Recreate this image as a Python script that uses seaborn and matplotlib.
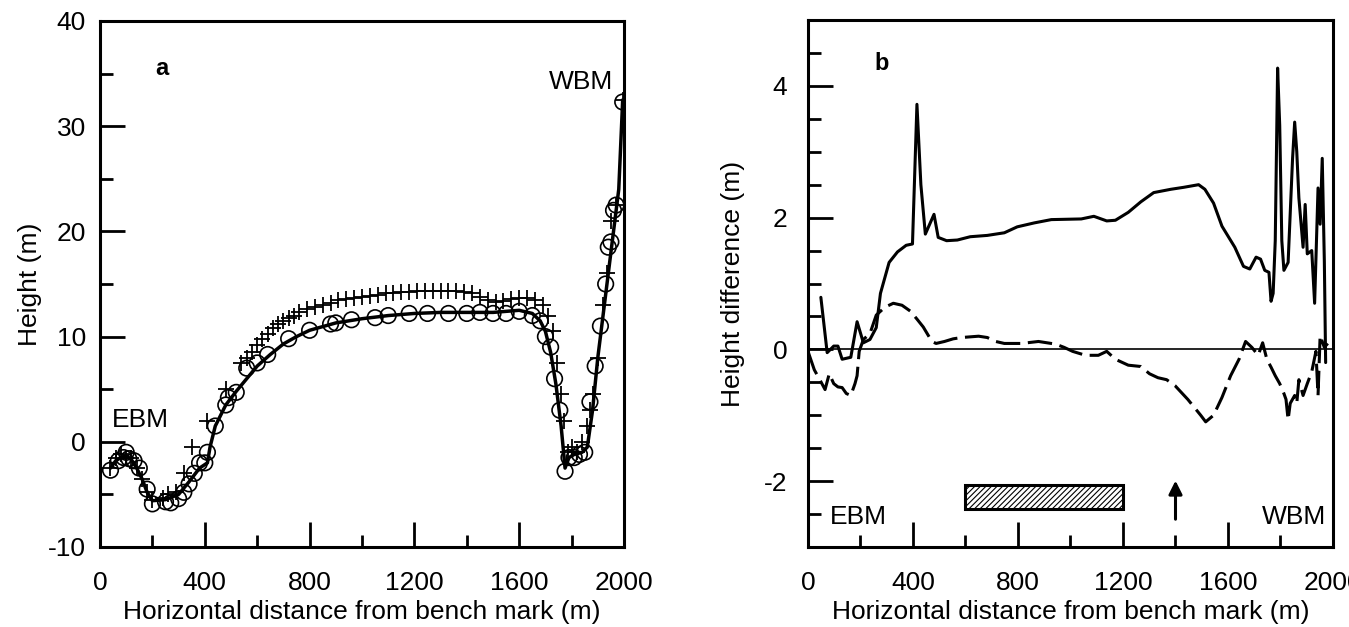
import numpy as np
import pandas as pd
import matplotlib
matplotlib.use("Agg")
import matplotlib.pyplot as plt
import seaborn as sns
from matplotlib.patches import Rectangle
from matplotlib.ticker import MultipleLocator

# ---------------- panel a: height profile ----------------
fit_x = [40, 60, 80, 100, 120, 140, 160, 180, 200, 250, 300, 340, 380, 410, 420, 440,
         480, 520, 560, 600, 650, 700, 750, 800, 900, 1000, 1100, 1200, 1300, 1400,
         1500, 1600, 1650, 1680, 1700, 1720, 1740, 1760, 1775, 1790, 1810, 1840, 1860,
         1880, 1900, 1920, 1940, 1960, 1980, 1995]
fit_y = [-2.5, -1.8, -1.5, -1.3, -1.7, -2.5, -3.5, -4.8, -5.6, -5.5, -5.0, -3.8, -2.5,
         -2.0, -0.5, 1.5, 3.5, 4.8, 6.0, 7.2, 8.3, 9.3, 10.0, 10.6, 11.3, 11.7, 12.0,
         12.2, 12.3, 12.3, 12.3, 12.5, 12.2, 11.5, 10.5, 8.5, 5.5, 1.5, -2.5, -1.5, -1.2,
         -1.0, -0.5, 3.0, 8.0, 12.0, 16.0, 20.0, 24.0, 32.5]

circ_x = [40, 70, 90, 100, 110, 130, 150, 180, 200, 250, 270, 300, 320, 340, 360, 380,
          400, 410, 440, 480, 490, 520, 560, 600, 640, 720, 800, 880, 900, 960, 1050,
          1100, 1180, 1250, 1330, 1400, 1450, 1500, 1550, 1600, 1650, 1680, 1700, 1720,
          1735, 1755, 1775, 1790, 1810, 1830, 1850, 1870, 1890, 1910, 1930, 1940, 1950,
          1960, 1970, 1995]
circ_y = [-2.7, -1.8, -1.5, -1.0, -1.6, -1.8, -2.5, -4.5, -5.9, -5.7, -5.8, -5.4, -4.8,
          -4.0, -3.0, -2.0, -2.0, -1.0, 1.5, 3.5, 4.2, 4.7, 7.0, 7.5, 8.3, 9.8, 10.6,
          11.2, 11.3, 11.6, 11.8, 12.0, 12.2, 12.2, 12.2, 12.2, 12.3, 12.2, 12.2, 12.4,
          12.0, 11.5, 10.0, 9.0, 6.0, 3.0, -2.8, -1.5, -1.5, -1.2, -1.0, 3.8, 7.2, 11.0,
          15.0, 18.5, 19.0, 22.0, 22.5, 32.3]

plus_x = [40, 60, 80, 100, 120, 140, 160, 180, 200, 240, 260, 290, 320, 350, 410, 480,
          540, 560, 580, 600, 620, 640, 660, 680, 700, 720, 740, 760, 790, 820, 850, 880,
          910, 940, 970, 1000, 1030, 1060, 1090, 1120, 1150, 1180, 1210, 1240, 1270, 1300,
          1330, 1360, 1390, 1420, 1450, 1480, 1510, 1540, 1570, 1600, 1630, 1660, 1690,
          1710, 1730, 1745, 1760, 1770, 1785, 1800, 1820, 1840, 1860, 1870, 1880, 1900,
          1920, 1935, 1950, 1970, 1995]
plus_y = [-2.5, -1.5, -1.2, -1.5, -1.5, -2.5, -3.5, -4.8, -5.5, -5.3, -5.0, -4.8, -3.0,
          -0.5, 2.0, 5.0, 7.5, 8.0, 8.5, 9.2, 9.8, 10.2, 10.8, 11.2, 11.5, 11.8, 12.0,
          12.3, 12.6, 12.8, 13.0, 13.2, 13.5, 13.6, 13.7, 13.8, 13.9, 14.0, 14.1, 14.1,
          14.2, 14.2, 14.3, 14.3, 14.3, 14.3, 14.3, 14.3, 14.2, 14.1, 13.8, 13.5, 13.3,
          13.4, 13.6, 13.7, 13.7, 13.5, 13.0, 12.0, 10.5, 7.5, 4.5, 2.0, -1.0, -0.5, -1.0,
          0.0, 1.5, 3.0, 4.5, 8.0, 13.0, 16.0, 21.0, 22.5, 32.5]

# ---------------- panel b: height differences ----------------
solid_x = [49, 73, 98, 114, 130, 163, 187, 211, 236, 260, 276, 309, 341, 374, 398, 415,
           430, 447, 480, 496, 528, 569, 618, 683, 748, 797, 862, 927, 1041, 1089, 1138,
           1171, 1220, 1268, 1317, 1382, 1431, 1488, 1512, 1545, 1577, 1626, 1659, 1683,
           1707, 1724, 1740, 1756, 1764, 1772, 1780, 1789, 1797, 1805, 1813, 1829, 1846,
           1854, 1862, 1870, 1886, 1894, 1902, 1919, 1930, 1943, 1951, 1959, 1967, 1972]
solid_y = [0.79, -0.05, 0.05, 0.05, -0.15, -0.12, 0.42, 0.10, 0.15, 0.33, 0.85, 1.32,
           1.48, 1.58, 1.60, 3.72, 2.5, 1.75, 2.05, 1.70, 1.65, 1.66, 1.71, 1.73, 1.77,
           1.86, 1.92, 1.97, 1.98, 2.02, 1.95, 1.96, 2.08, 2.24, 2.38, 2.43, 2.46, 2.50,
           2.43, 2.22, 1.87, 1.55, 1.26, 1.22, 1.40, 1.37, 1.20, 1.17, 0.73, 0.85, 1.65,
           4.27, 3.4, 1.65, 1.20, 1.32, 2.90, 3.45, 3.0, 2.30, 1.55, 2.2, 1.45, 1.50, 0.70,
           2.45, 1.9, 2.90, 1.34, -0.2]

dash_x = [0, 24, 49, 65, 81, 98, 114, 130, 146, 163, 179, 187, 195, 211, 236, 260, 293,
          325, 358, 390, 415, 439, 472, 488, 520, 553, 585, 650, 683, 715, 748, 813, 878,
          943, 976, 1008, 1057, 1106, 1138, 1171, 1220, 1268, 1301, 1333, 1366, 1398,
          1447, 1496, 1515, 1545, 1577, 1610, 1642, 1667, 1691, 1715, 1732, 1748, 1764,
          1780, 1797, 1813, 1821, 1829, 1837, 1854, 1862, 1870, 1886, 1902, 1919, 1935,
          1943, 1951, 1967, 1980]
dash_y = [-0.03, -0.31, -0.49, -0.61, -0.37, -0.52, -0.57, -0.58, -0.67, -0.70, -0.52,
          -0.40, -0.03, 0.15, 0.24, 0.52, 0.64, 0.70, 0.67, 0.58, 0.46, 0.34, 0.12, 0.09,
          0.12, 0.16, 0.18, 0.20, 0.18, 0.12, 0.09, 0.09, 0.12, 0.08, 0.03, -0.03, -0.09,
          -0.09, -0.03, -0.15, -0.24, -0.26, -0.37, -0.43, -0.46, -0.55, -0.76, -1.0,
          -1.1, -1.0, -0.73, -0.40, -0.15, 0.12, 0.03, -0.09, 0.10, -0.15, -0.27, -0.40,
          -0.52, -0.67, -0.76, -1.07, -0.82, -0.70, -0.82, -0.46, -0.70, -0.52, -0.34,
          -0.03, -0.70, 0.21, 0.03, 0.09]

survey_span = (600, 1200)      # hatched bar
survey_band = (-2.42, -2.06)
arrow_x = 1400

FS = 19
sns.set_theme(style="white")
plt.rcParams["font.family"] = ["Liberation Sans", "DejaVu Sans"]
plt.rcParams["hatch.linewidth"] = 0.8
plt.rcParams["axes.unicode_minus"] = False
plt.rcParams["text.color"] = "black"
plt.rcParams["axes.labelcolor"] = "black"

fig = plt.figure(figsize=(13.49, 6.27), dpi=100)
ax_a = fig.add_axes([100 / 1349, 80 / 627, 524 / 1349, 526 / 627])
ax_b = fig.add_axes([808 / 1349, 80 / 627, 525 / 1349, 527 / 627])


def style_axes(ax, ypad):
    for sp in ax.spines.values():
        sp.set_linewidth(2.2)
        sp.set_color("black")
    ax.tick_params(which="both", bottom=True, left=True, top=False, right=False,
                   direction="in", width=2.0, color="black")
    ax.tick_params(which="major", length=18, labelsize=FS, labelcolor="black")
    ax.tick_params(which="minor", length=9)
    ax.tick_params(axis="x", which="major", pad=17)
    ax.tick_params(axis="y", which="major", pad=ypad)


# panel a
sns.scatterplot(x=circ_x, y=circ_y, ax=ax_a, marker="o", s=125, facecolor="none",
                edgecolor="black", linewidth=1.2, zorder=2)
sns.scatterplot(x=plus_x, y=plus_y, ax=ax_a, marker="+", s=120, color="black",
                linewidth=1.3, zorder=2)
sns.lineplot(x=fit_x, y=fit_y, ax=ax_a, color="black", lw=2.5, zorder=3)
ax_a.set_xlim(0, 2000)
ax_a.set_ylim(-10, 40)
ax_a.xaxis.set_major_locator(MultipleLocator(400))
ax_a.xaxis.set_minor_locator(MultipleLocator(200))
ax_a.yaxis.set_major_locator(MultipleLocator(10))
ax_a.yaxis.set_minor_locator(MultipleLocator(5))
style_axes(ax_a, 10)
ax_a.set_xlabel("Horizontal distance from bench mark (m)", fontsize=FS, labelpad=4)
ax_a.set_ylabel("Height (m)", fontsize=FS)
ax_a.yaxis.set_label_coords(-0.11, 0.5)
ax_a.text(210, 35.5, "a", fontsize=FS - 2, fontweight="bold", va="center")
ax_a.text(45, 2.1, "EBM", fontsize=FS, va="center")
ax_a.text(1715, 34.2, "WBM", fontsize=FS, va="center")

# panel b
ax_b.axhline(0, color="black", lw=1.2, zorder=1)
sns.lineplot(x=solid_x, y=solid_y, ax=ax_b, color="black", lw=2.2, sort=False)
sns.lineplot(x=dash_x, y=dash_y, ax=ax_b, color="black", lw=2.2, sort=False,
             linestyle=(0, (8, 2.5)))
ax_b.add_patch(Rectangle((survey_span[0], survey_band[0]),
                         survey_span[1] - survey_span[0],
                         survey_band[1] - survey_band[0],
                         facecolor="white", edgecolor="black", lw=2.2,
                         hatch="//////", zorder=3))
ax_b.annotate("", xy=(arrow_x, -1.95), xytext=(arrow_x, -2.62),
              arrowprops=dict(arrowstyle="-|>", color="black", lw=2.2,
                              mutation_scale=20))
ax_b.set_xlim(0, 2000)
ax_b.set_ylim(-3, 5)
ax_b.set_xticks([0, 400, 800, 1200, 1600, 2000])
ax_b.xaxis.set_minor_locator(MultipleLocator(200))
ax_b.set_yticks([-2, 0, 2, 4])
ax_b.yaxis.set_minor_locator(MultipleLocator(0.5))
style_axes(ax_b, 15)
ax_b.set_xlabel("Horizontal distance from bench mark (m)", fontsize=FS, labelpad=4)
ax_b.set_ylabel("Height difference (m)", fontsize=FS)
ax_b.yaxis.set_label_coords(-0.12, 0.5)
ax_b.text(252, 4.34, "b", fontsize=FS - 2, fontweight="bold", va="center")
ax_b.text(85, -2.55, "EBM", fontsize=FS, va="center")
ax_b.text(1975, -2.55, "WBM", fontsize=FS, va="center", ha="right")

fig.savefig("out.png", dpi=100)
